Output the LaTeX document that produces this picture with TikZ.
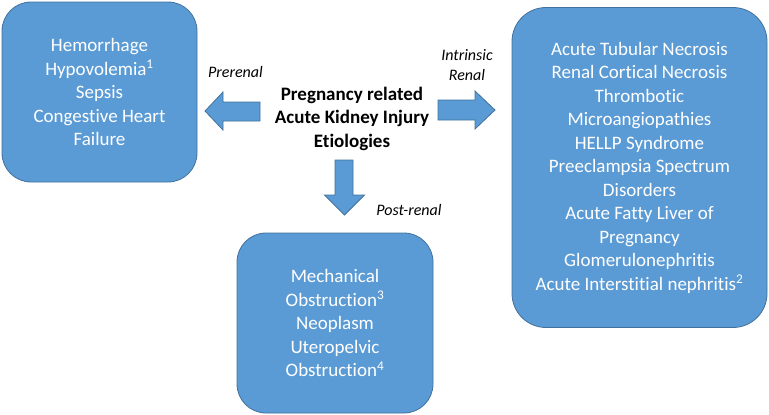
\documentclass[tikz,border=0pt]{standalone}
\usepackage{fontspec}
\setmainfont{Carlito}[Ligatures=NoCommon]
\definecolor{boxfill}{HTML}{5B9BD5}
\definecolor{boxline}{HTML}{41719C}
\tikzset{
  etbox/.style={draw=boxline, fill=boxfill, line width=0.8pt, text=white, align=center,
    inner sep=0pt, font=\fontsize{19}{23.5}\selectfont},
  blockarrow/.style={draw=boxline, fill=boxfill, line width=0.8pt, line join=miter},
  routelabel/.style={font=\fontsize{16}{20}\selectfont\itshape, align=center, inner sep=0pt},
  titletext/.style={font=\fontsize{19}{23.5}\selectfont\bfseries, align=center, inner sep=0pt}
}
\begin{document}
\begin{tikzpicture}[x=1pt,y=-1pt]
\useasboundingbox (0,0) rectangle (769,415);
% boxes
\node[etbox, rounded corners=29pt, minimum width=195pt, minimum height=180pt] (pre) at (99.5,92)
  {Hemorrhage\\Hypovolemia\textsuperscript{1}\\Sepsis\\Congestive Heart\\Failure};
\node[etbox, rounded corners=34pt, minimum width=255pt, minimum height=320pt] (intr) at (639.5,167.5)
  {Acute Tubular Necrosis\\Renal Cortical Necrosis\\Thrombotic\\Microangiopathies\\HELLP Syndrome\\Preeclampsia Spectrum\\Disorders\\Acute Fatty Liver of\\Pregnancy\\Glomerulonephritis\\Acute Interstitial nephritis\textsuperscript{2}};
\node[etbox, rounded corners=29pt, minimum width=196pt, minimum height=180pt] (post) at (335,323)
  {Mechanical\\Obstruction\textsuperscript{3}\\Neoplasm\\Uteropelvic\\Obstruction\textsuperscript{4}};
% title
\node[titletext] (title) at (352,118.5) {Pregnancy related\\Acute Kidney Injury\\Etiologies};
% block arrows
\draw[blockarrow] (260,102) -- (223,102) -- (223,92) -- (205,111) -- (223,130) -- (223,121) -- (260,121) -- cycle;
\draw[blockarrow] (438,100) -- (475,100) -- (475,91) -- (495,110) -- (475,129) -- (475,120) -- (438,120) -- cycle;
\draw[blockarrow] (335,160) -- (353,160) -- (353,195) -- (364.5,195) -- (344.5,215) -- (324.5,195) -- (335,195) -- cycle;
% labels
\node[routelabel] (lpre) at (235.5,72) {Prerenal};
\node[routelabel] (lintr) at (467,65) {Intrinsic\\Renal};
\node[routelabel] (lpost) at (409,210) {Post-renal};
\end{tikzpicture}
\end{document}
